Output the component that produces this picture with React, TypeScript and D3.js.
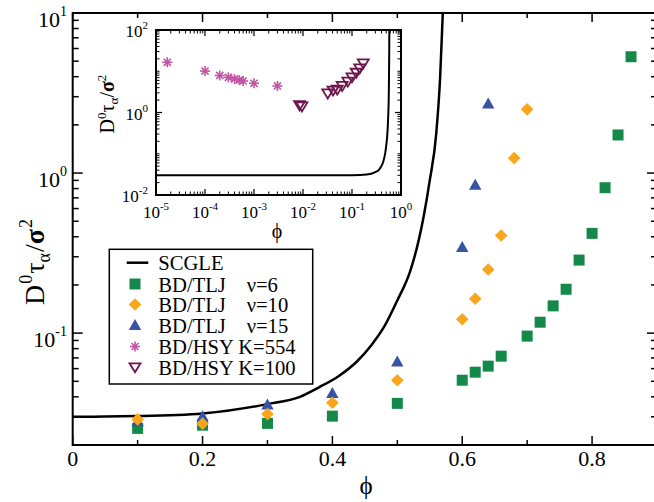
import React from "react";
import * as d3 from "d3";

// SCGLE theory curve (phi, D0 tau_alpha / sigma^2)
const scglePhi = [0, 0.00001, 0.001, 0.01, 0.05, 0.1, 0.2, 0.3, 0.35, 0.38, 0.41, 0.437, 0.46, 0.48, 0.5, 0.52, 0.533, 0.54, 0.55, 0.56, 0.566, 0.57, 0.575, 0.578];
const scgleVal = [0.030, 0.030, 0.030, 0.030, 0.0301, 0.0303, 0.0315, 0.036, 0.040, 0.046, 0.054, 0.066, 0.084, 0.11, 0.16, 0.245, 0.381, 0.52, 0.9, 1.77, 4, 9.9, 30, 100];

// BD/TLJ nu=6
const nu6Phi = [0.1, 0.2, 0.3, 0.4, 0.5, 0.6, 0.62, 0.64, 0.66, 0.70, 0.72, 0.74, 0.76, 0.78, 0.80, 0.82, 0.84, 0.86];
const nu6Val = [0.0254, 0.0266, 0.0273, 0.0303, 0.0364, 0.0508, 0.057, 0.0622, 0.0718, 0.0958, 0.117, 0.148, 0.188, 0.286, 0.42, 0.81, 1.73, 5.33];
// BD/TLJ nu=10
const nu10Phi = [0.1, 0.2, 0.3, 0.4, 0.5, 0.6, 0.62, 0.64, 0.66, 0.68, 0.70];
const nu10Val = [0.0289, 0.0272, 0.0312, 0.0367, 0.0508, 0.122, 0.164, 0.25, 0.407, 1.24, 2.5];
// BD/TLJ nu=15
const nu15Phi = [0.1, 0.2, 0.3, 0.4, 0.5, 0.6, 0.62, 0.64];
const nu15Val = [0.0279, 0.030, 0.0355, 0.042, 0.066, 0.343, 0.84, 2.7];
// BD/HSY K=554 (inset)
const k554Phi = [1.7e-5, 1e-4, 2e-4, 3e-4, 4e-4, 5e-4, 6e-4, 1e-3, 3e-3];
const k554Val = [16.5, 10.1, 7.9, 7.1, 6.5, 6.1, 5.8, 5.1, 4.4];
// BD/HSY K=100 (inset)
const k100Phi = [0.0085, 0.0095, 0.032, 0.041, 0.05, 0.063, 0.082, 0.10, 0.122, 0.144, 0.17];
const k100Val = [1.5, 1.4, 2.9, 3.4, 3.6, 4.4, 5.6, 7.1, 9.2, 11.7, 15.5];

const xTickVals = [0, 0.2, 0.4, 0.6, 0.8];
const xTickLabels = ["0", "0.2", "0.4", "0.6", "0.8"];
const xMinorVals = [0.1, 0.3, 0.5, 0.7];
const yMajorVals = [0.1, 1, 10];
const yMajorExp = ["-1", "0", "1"];
const insetXMajor = [1e-5, 1e-4, 1e-3, 1e-2, 1e-1, 1];
const insetXExp = ["-5", "-4", "-3", "-2", "-1", "0"];
const insetYLabeled = [1e-2, 1, 1e2];
const insetYExp = ["-2", "0", "2"];

const legendLabels = ["SCGLE", "BD/TLJ", "BD/TLJ", "BD/TLJ", "BD/HSY K=554", "BD/HSY K=100"];
const legendNu = ["", "ν=6", "ν=10", "ν=15", "", ""];

const GREEN = "#15894a";
const ORANGE = "#f9a61c";
const BLUE = "#3753a4";
const PINK = "#c154a4";
const PURPLE = "#6c164c";
const FONT = '"Liberation Serif", "DejaVu Serif", "Times New Roman", serif';

const zip = (a: number[], b: number[]) => a.map((v, i) => [v, b[i]] as [number, number]);

function Square({ cx, cy }: { cx: number; cy: number }) {
  return <rect x={cx - 5.5} y={cy - 5.5} width={11} height={11} fill={GREEN} />;
}
function Diamond({ cx, cy }: { cx: number; cy: number }) {
  const r = 6.3;
  return <path d={`M${cx},${cy - r}L${cx + r},${cy}L${cx},${cy + r}L${cx - r},${cy}Z`} fill={ORANGE} />;
}
function TriUp({ cx, cy }: { cx: number; cy: number }) {
  return <path d={`M${cx},${cy - 6.5}L${cx + 6.2},${cy + 4.5}L${cx - 6.2},${cy + 4.5}Z`} fill={BLUE} />;
}
function Star({ cx, cy }: { cx: number; cy: number }) {
  const r = 5;
  const angs = [0, 45, 90, 135];
  return (
    <g stroke={PINK} strokeWidth={1.6}>
      {angs.map((a) => {
        const dx = r * Math.cos((a * Math.PI) / 180);
        const dy = r * Math.sin((a * Math.PI) / 180);
        return <line key={a} x1={cx - dx} y1={cy - dy} x2={cx + dx} y2={cy + dy} />;
      })}
    </g>
  );
}
function TriDown({ cx, cy }: { cx: number; cy: number }) {
  return (
    <path d={`M${cx - 5.5},${cy - 4}L${cx + 5.5},${cy - 4}L${cx},${cy + 5}Z`} fill="none" stroke={PURPLE} strokeWidth={1.8} />
  );
}

export default function App() {
  const x = d3.scaleLinear().domain([0, 0.9]).range([72.7, 657]);
  const y = d3.scaleLog().domain([0.02, 10]).range([445, 13]);
  const xi = d3.scaleLog().domain([1e-5, 1]).range([156, 401]);
  const yi = d3.scaleLog().domain([1e-2, 1e2]).range([195, 30]);

  const scgle = zip(scglePhi, scgleVal);
  const mainLine = d3
    .line<[number, number]>()
    .x((d) => x(d[0]))
    .y((d) => y(d[1]))
    .curve(d3.curveMonotoneX);
  const insetLine = d3
    .line<[number, number]>()
    .x((d) => xi(d[0]))
    .y((d) => yi(d[1]))
    .curve(d3.curveMonotoneX);

  const [x0, x1] = x.range();
  const [yb, yt] = y.range();
  const [ix0, ix1] = xi.range();
  const [iyb, iyt] = yi.range();

  const yMinor: number[] = [];
  [0.01, 0.1, 1].forEach((dec) => {
    for (let k = 2; k <= 9; k++) {
      const v = dec * k;
      if (v >= 0.02 && v < 10) yMinor.push(v);
    }
  });
  const ixMinor: number[] = [];
  [1e-5, 1e-4, 1e-3, 1e-2, 1e-1].forEach((dec) => {
    for (let k = 2; k <= 9; k++) ixMinor.push(dec * k);
  });
  const iyMinor: number[] = [];
  [1e-2, 1e-1, 1, 10].forEach((dec) => {
    for (let k = 2; k <= 9; k++) iyMinor.push(dec * k);
  });
  [0.1, 10].forEach((v) => iyMinor.push(v));

  const legendRows = [262.7, 284, 304.5, 325.5, 346.5, 367.3];

  return (
    <svg width={654} height={502} style={{ position: "absolute", left: 0, top: 0, background: "#fff", fontFamily: FONT }}>
      <defs>
        <clipPath id="mainClip">
          <rect x={x0} y={yt} width={x1 - x0} height={yb - yt} />
        </clipPath>
        <clipPath id="insetClip">
          <rect x={ix0} y={iyt} width={ix1 - ix0} height={iyb - iyt} />
        </clipPath>
      </defs>

      <path d={mainLine(scgle) || ""} fill="none" stroke="#000" strokeWidth={2.5} clipPath="url(#mainClip)" />

      <g clipPath="url(#mainClip)">
        {zip(nu6Phi, nu6Val).map((d, i) => (
          <Square key={"s" + i} cx={x(d[0])} cy={y(d[1])} />
        ))}
        {zip(nu15Phi, nu15Val).map((d, i) => (
          <TriUp key={"t" + i} cx={x(d[0])} cy={y(d[1])} />
        ))}
        {zip(nu10Phi, nu10Val).map((d, i) => (
          <Diamond key={"d" + i} cx={x(d[0])} cy={y(d[1])} />
        ))}
      </g>

      <rect x={x0} y={yt} width={x1 - x0} height={yb - yt} fill="none" stroke="#000" strokeWidth={2} />

      {xTickVals.map((v) => (
        <g key={"xt" + v}>
          <line x1={x(v)} x2={x(v)} y1={yb} y2={yb - 9} stroke="#000" strokeWidth={1.5} />
          <line x1={x(v)} x2={x(v)} y1={yt} y2={yt + 9} stroke="#000" strokeWidth={1.5} />
        </g>
      ))}
      {xMinorVals.map((v) => (
        <g key={"xm" + v}>
          <line x1={x(v)} x2={x(v)} y1={yb} y2={yb - 5} stroke="#000" strokeWidth={1.5} />
          <line x1={x(v)} x2={x(v)} y1={yt} y2={yt + 5} stroke="#000" strokeWidth={1.5} />
        </g>
      ))}
      {xTickVals.map((v, i) => (
        <text key={"xl" + v} x={x(v)} y={466} fontSize={22} textAnchor="middle">
          {xTickLabels[i]}
        </text>
      ))}
      <text x={366} y={494} fontSize={25} textAnchor="middle">
        ϕ
      </text>

      {yMajorVals.map((v) => (
        <g key={"ym" + v}>
          <line x1={x0} x2={x0 + 10} y1={y(v)} y2={y(v)} stroke="#000" strokeWidth={1.5} />
          <line x1={x1} x2={x1 - 10} y1={y(v)} y2={y(v)} stroke="#000" strokeWidth={1.5} />
        </g>
      ))}
      {yMinor.map((v) => (
        <g key={"yn" + v}>
          <line x1={x0} x2={x0 + 6} y1={y(v)} y2={y(v)} stroke="#000" strokeWidth={1.5} />
          <line x1={x1} x2={x1 - 6} y1={y(v)} y2={y(v)} stroke="#000" strokeWidth={1.5} />
        </g>
      ))}
      {yMajorVals.map((v, i) => (
        <text key={"yl" + v} x={67} y={y(v) + 14} fontSize={22} textAnchor="end">
          10
          <tspan dy={-11} fontSize={14}>
            {yMajorExp[i]}
          </tspan>
        </text>
      ))}
      <text transform="translate(44,262) rotate(-90)" fontSize={28} textAnchor="middle">
        D
        <tspan dy={-12} dx={1} fontSize={18}>0</tspan>
        <tspan dy={12} dx={1}>τ</tspan>
        <tspan dy={6} fontSize={18}>α</tspan>
        <tspan dy={-6} dx={1}>/</tspan>
        <tspan fontWeight="bold">σ</tspan>
        <tspan dy={-12} dx={1} fontSize={18}>2</tspan>
      </text>

      <rect x={109.3} y={249.3} width={203.4} height={134.7} fill="#fff" stroke="#000" strokeWidth={1.5} />
      <line x1={126.7} x2={148.3} y1={legendRows[0]} y2={legendRows[0]} stroke="#000" strokeWidth={2.5} />
      <Square cx={135} cy={legendRows[1]} />
      <Diamond cx={135} cy={legendRows[2]} />
      <TriUp cx={135} cy={legendRows[3]} />
      <Star cx={135} cy={legendRows[4]} />
      <TriDown cx={135} cy={legendRows[5]} />
      {legendLabels.map((t, i) => (
        <text key={"lg" + i} x={158.3} y={legendRows[i] + 7.5} fontSize={20.6}>
          {t}
        </text>
      ))}
      {legendNu.map((t, i) =>
        t ? (
          <text key={"ln" + i} x={246.7} y={legendRows[i] + 7.5} fontSize={20.6}>
            {t}
          </text>
        ) : null
      )}

      <rect x={ix0} y={iyt} width={ix1 - ix0} height={iyb - iyt} fill="#fff" stroke="none" />
      <path
        d={insetLine(scgle.filter((d) => d[0] > 0)) || ""}
        fill="none"
        stroke="#000"
        strokeWidth={2}
        clipPath="url(#insetClip)"
      />
      <g clipPath="url(#insetClip)">
        {zip(k554Phi, k554Val).map((d, i) => (
          <Star key={"k5" + i} cx={xi(d[0])} cy={yi(d[1])} />
        ))}
        {zip(k100Phi, k100Val).map((d, i) => (
          <TriDown key={"k1" + i} cx={xi(d[0])} cy={yi(d[1])} />
        ))}
      </g>
      <rect x={ix0} y={iyt} width={ix1 - ix0} height={iyb - iyt} fill="none" stroke="#000" strokeWidth={2} />
      {insetXMajor.map((v) => (
        <g key={"ixm" + v}>
          <line x1={xi(v)} x2={xi(v)} y1={iyb} y2={iyb - 6} stroke="#000" strokeWidth={1.2} />
          <line x1={xi(v)} x2={xi(v)} y1={iyt} y2={iyt + 6} stroke="#000" strokeWidth={1.2} />
        </g>
      ))}
      {ixMinor.map((v) => (
        <g key={"ixn" + v}>
          <line x1={xi(v)} x2={xi(v)} y1={iyb} y2={iyb - 3.5} stroke="#000" strokeWidth={1} />
          <line x1={xi(v)} x2={xi(v)} y1={iyt} y2={iyt + 3.5} stroke="#000" strokeWidth={1} />
        </g>
      ))}
      {insetYLabeled.map((v) => (
        <g key={"iym" + v}>
          <line x1={ix0} x2={ix0 + 6} y1={yi(v)} y2={yi(v)} stroke="#000" strokeWidth={1.2} />
          <line x1={ix1} x2={ix1 - 6} y1={yi(v)} y2={yi(v)} stroke="#000" strokeWidth={1.2} />
        </g>
      ))}
      {iyMinor.map((v) => (
        <g key={"iyn" + v}>
          <line x1={ix0} x2={ix0 + 3.5} y1={yi(v)} y2={yi(v)} stroke="#000" strokeWidth={1} />
          <line x1={ix1} x2={ix1 - 3.5} y1={yi(v)} y2={yi(v)} stroke="#000" strokeWidth={1} />
        </g>
      ))}
      {insetXMajor.map((v, i) => (
        <text key={"ixl" + v} x={xi(v)} y={218} fontSize={17} textAnchor="middle">
          10
          <tspan dy={-8} fontSize={11}>
            {insetXExp[i]}
          </tspan>
        </text>
      ))}
      {insetYLabeled.map((v, i) => (
        <text key={"iyl" + v} x={148} y={yi(v) + 7} fontSize={17} textAnchor="end">
          10
          <tspan dy={-8} fontSize={11}>
            {insetYExp[i]}
          </tspan>
        </text>
      ))}
      <text x={277} y={238} fontSize={20} textAnchor="middle">
        ϕ
      </text>
      <text transform="translate(114,104) rotate(-90)" fontSize={20} textAnchor="middle">
        D
        <tspan dy={-8} fontSize={13}>0</tspan>
        <tspan dy={8}>τ</tspan>
        <tspan dy={4} fontSize={13}>α</tspan>
        <tspan dy={-4}>/</tspan>
        <tspan fontWeight="bold">σ</tspan>
        <tspan dy={-8} fontSize={13}>2</tspan>
      </text>
    </svg>
  );
}
